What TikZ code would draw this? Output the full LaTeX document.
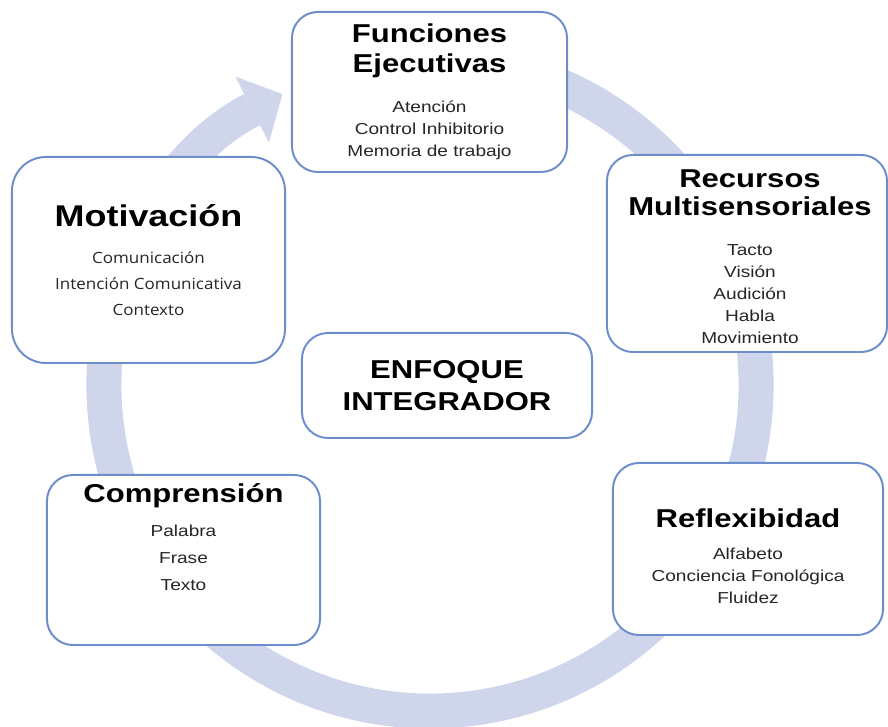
\documentclass[tikz,border=0pt]{standalone}
\usepackage{fontspec}
\setmainfont{Liberation Sans}[FakeStretch=1.2]
\newfontfamily\motfont{Open Sans}[FakeStretch=1.1]
\usetikzlibrary{arrows.meta}
\definecolor{anillo}{HTML}{CFD5EA}
\definecolor{borde}{HTML}{6D8ECB}
\definecolor{gristxt}{HTML}{262626}
\newcommand{\titulo}[1]{{\normalfont\fontsize{18.4pt}{22pt}\selectfont\bfseries\color{black}#1}}
\newcommand{\titulomot}[1]{{\normalfont\fontsize{21.3pt}{25pt}\selectfont\bfseries\color{black}#1}}

\begin{document}
\begin{tikzpicture}[x=0.025cm, y=0.025cm,
  caja/.style={draw=borde, line width=1.4pt, fill=white, rounded corners=0.65cm},
  texto/.style={align=center, inner sep=0pt, text=gristxt, font=\fontsize{11.3pt}{15.6pt}\selectfont}]
  \useasboundingbox (0,0) rectangle (888,727);

  \draw[anillo, line width=0.875cm, -{Triangle[length=0.85cm, width=1.85cm, line width=0pt]}]
    (430,342) ++(95:8.15cm) arc[start angle=95, end angle=-243.1, radius=8.15cm];

  \node[caja, minimum width=6.875cm, minimum height=4cm] (fe) at (429.5,635) {};
  \node[caja, minimum width=7cm, minimum height=4.925cm] (rm) at (747,473.5) {};
  \node[caja, minimum width=6.75cm, minimum height=4.3cm] (rf) at (748,178) {};
  \node[caja, minimum width=6.825cm, minimum height=4.25cm] (co) at (183.5,167) {};
  \node[caja, minimum width=6.825cm, minimum height=5.15cm, rounded corners=0.85cm] (mo) at (148.5,467) {};
  \node[caja, minimum width=7.25cm, minimum height=2.625cm] (ei) at (447,341.5) {};

  \node[texto] (fe-t) at (fe) {\titulo{Funciones}\\[5.7pt]\titulo{Ejecutivas}\\[12.8pt]Atención\\Control Inhibitorio\\Memoria de trabajo};
  \node[texto] (rm-t) at ([xshift=0.075cm, yshift=-0.075cm]rm.center) {\titulo{Recursos}\\[4.3pt]\titulo{Multisensoriales}\\[12.8pt]Tacto\\Visión\\Audición\\Habla\\Movimiento};
  \node[texto, font=\motfont\fontsize{11pt}{18.4pt}\selectfont] (mo-t) at (mo) {\titulomot{Motivación}\\[7.8pt]Comunicación\\Intención Comunicativa\\Contexto};
  \node[texto, font=\fontsize{11.3pt}{19.1pt}\selectfont] (co-t) at ([yshift=0.575cm]co.center) {\titulo{Comprensión}\\[5.7pt]Palabra\\Frase\\Texto};
  \node[texto] (rf-t) at ([yshift=-0.19cm]rf.center) {\titulo{Reflexibidad}\\[7.1pt]Alfabeto\\Conciencia Fonológica\\Fluidez};
  \node[texto] (ei-t) at (ei) {\titulo{ENFOQUE}\\[5.7pt]\titulo{INTEGRADOR}};
\end{tikzpicture}
\end{document}
